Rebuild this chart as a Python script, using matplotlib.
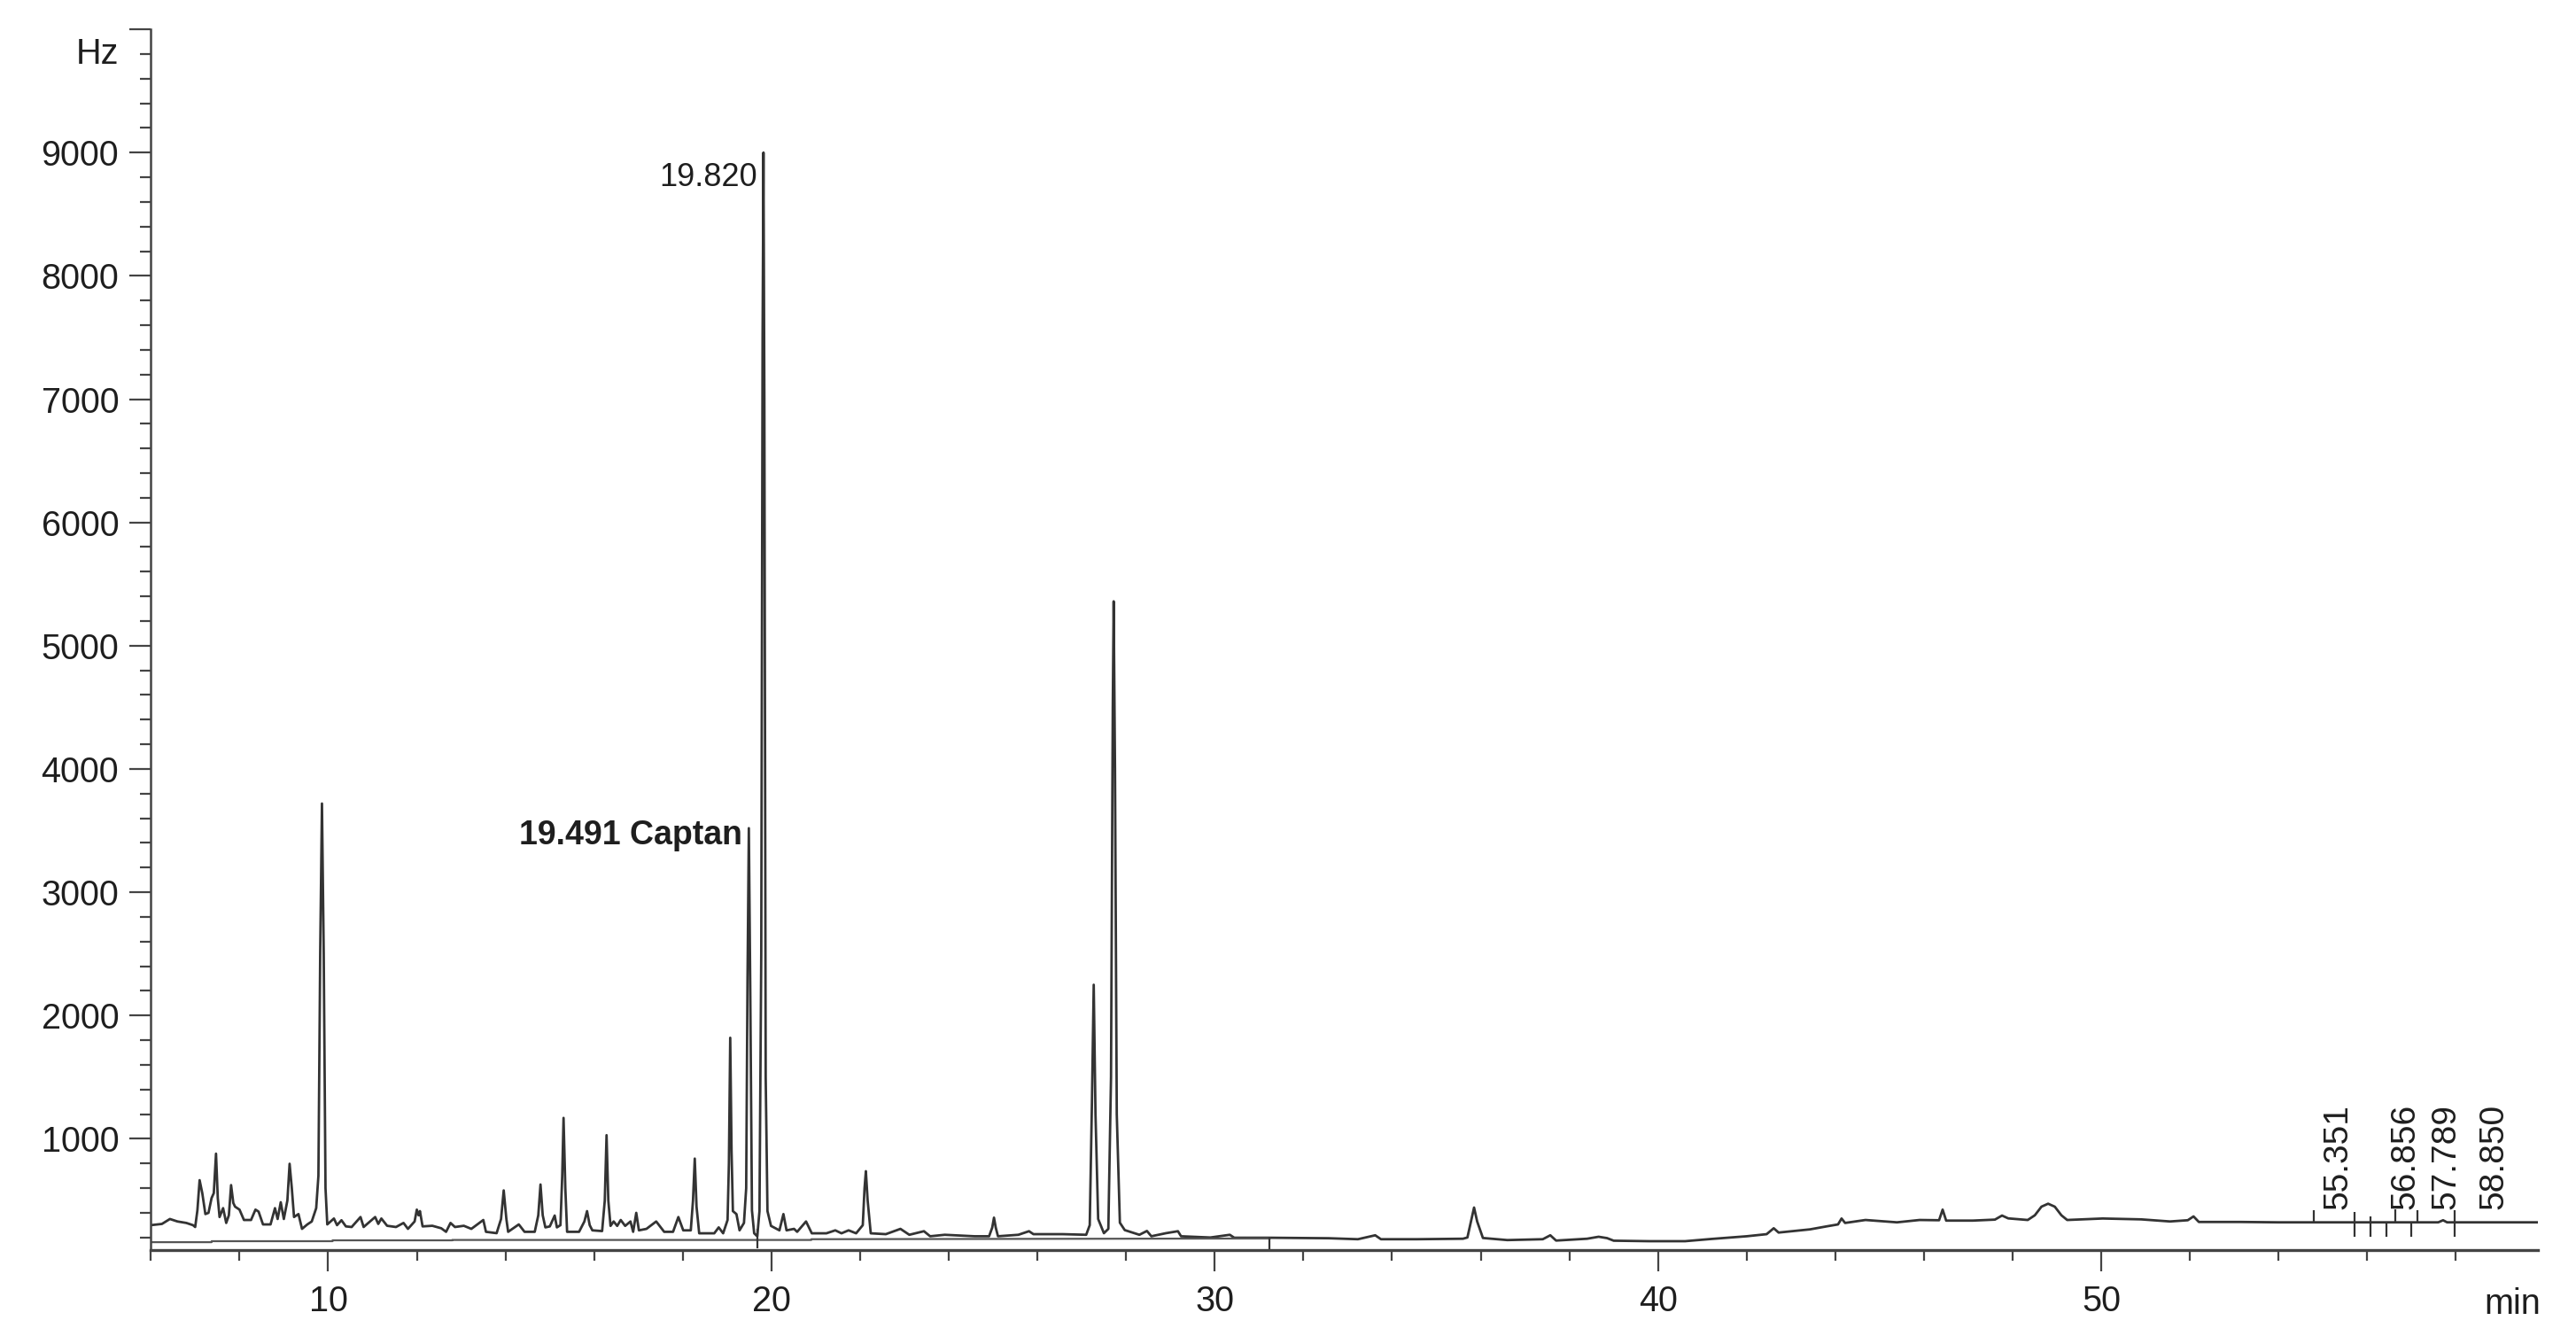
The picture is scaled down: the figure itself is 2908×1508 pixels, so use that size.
import numpy as np
import matplotlib.pyplot as plt
from matplotlib.ticker import MultipleLocator

plt.rcParams['font.family'] = ['Liberation Sans', 'DejaVu Sans']

# chromatogram trace: retention time (min) / signal (Hz)
trace_min = [
    6.00, 6.25, 6.43, 6.60, 6.80, 6.95, 7.00, 7.05, 7.10, 7.16, 7.23, 7.30, 7.37, 7.42, 7.47, 7.51,
    7.55, 7.63, 7.70, 7.76, 7.81, 7.86, 7.90, 8.00, 8.10, 8.26, 8.36, 8.43, 8.53, 8.70, 8.80, 8.86,
    8.93, 9.00, 9.08, 9.13, 9.18, 9.23, 9.33, 9.41, 9.53, 9.63, 9.73, 9.78, 9.82, 9.86, 9.90, 9.94,
    9.98, 10.13, 10.20, 10.30, 10.40, 10.53, 10.73, 10.80, 11.06, 11.13, 11.20, 11.33, 11.53, 11.70,
    11.80, 11.95, 12.00, 12.04, 12.07, 12.13, 12.35, 12.55, 12.66, 12.76, 12.86, 13.06, 13.23, 13.50,
    13.56, 13.80, 13.90, 13.96, 14.02, 14.06, 14.30, 14.43, 14.66, 14.74, 14.79, 14.84, 14.90, 15.00,
    15.11, 15.16, 15.24, 15.28, 15.31, 15.35, 15.39, 15.66, 15.78, 15.84, 15.90, 15.96,
    16.18, 16.24, 16.28, 16.32, 16.37, 16.44, 16.52, 16.60, 16.70, 16.82, 16.88, 16.95, 17.01, 17.18,
    17.40, 17.58, 17.78, 17.90, 18.01, 18.18, 18.23, 18.27, 18.31, 18.37, 18.71, 18.81, 18.91, 19.01,
    19.04, 19.07, 19.10, 19.13, 19.21, 19.28, 19.38, 19.43, 19.46, 19.49, 19.52, 19.56, 19.61, 19.68,
    19.73, 19.77, 19.80, 19.82, 19.84, 19.87, 19.91, 19.99, 20.18, 20.27, 20.34, 20.51, 20.58, 20.78,
    20.91, 21.24, 21.44, 21.58, 21.74, 21.91, 22.06, 22.10, 22.13, 22.17, 22.24, 22.58, 22.91, 23.11,
    23.44, 23.58, 23.91, 24.30, 24.58,
    24.91, 24.98, 25.02, 25.06, 25.11, 25.57, 25.81, 25.91, 26.57, 27.10, 27.18, 27.23, 27.27, 27.31,
    27.37, 27.50, 27.60, 27.66, 27.70, 27.72, 27.75, 27.79, 27.86, 27.97, 28.30, 28.47, 28.57, 28.90,
    29.17, 29.24, 29.90, 30.34, 30.44, 31.24, 32.57, 33.23, 33.62, 33.75, 34.56, 35.60,
    35.70, 35.78, 35.85, 35.92, 36.05, 36.60, 37.40, 37.57, 37.70, 38.40, 38.66, 38.85, 39.00, 39.80,
    40.61, 41.20, 41.56, 42.00, 42.45, 42.61, 42.72, 43.43, 43.80, 44.06, 44.14, 44.22, 44.68, 45.39,
    45.90, 46.34, 46.42, 46.50, 47.10, 47.60, 47.76, 47.90, 48.34, 48.50, 48.65, 48.80, 48.95, 49.10,
    49.23, 50.03, 50.90, 51.55, 51.95, 52.08, 52.20, 53.15, 54.00, 55.00, 56.00, 57.60, 57.71, 57.80,
    59.85,
]
trace_hz = [
    300, 310, 350, 330, 318, 300, 285, 420, 665, 560, 390, 400, 520, 560, 880, 520,
    366, 438, 318, 380, 625, 480, 450, 426, 342, 342, 426, 410, 306, 306, 438, 350,
    486, 350, 500, 798, 600, 366, 390, 270, 306, 330, 438, 700, 2500, 3720, 2500, 600,
    306, 354, 300, 340, 290, 285, 366, 285, 366, 310, 354, 295, 285, 318,
    270, 330, 426, 380, 414, 290, 295, 275, 246, 318, 285, 295, 270, 342,
    246, 235, 350, 582, 350, 246, 306, 246, 246, 380, 630, 380, 282, 290,
    378, 282, 300, 700, 1170, 600, 246, 246, 330, 414, 300, 258,
    252, 500, 1030, 500, 294, 330, 294, 342, 294, 330, 246, 400, 258, 270,
    330, 246, 246, 366, 258, 258, 500, 840, 450, 234, 234, 282, 234, 342,
    800, 1820, 900, 414, 390, 258, 318, 600, 2300, 3520, 2300, 420, 234, 210,
    414, 2500, 7500, 9000, 7000, 1500, 414, 294, 258, 390, 258, 270, 246, 330,
    234, 234, 258, 234, 258, 234, 300, 600, 738, 500, 234, 227, 270, 222,
    251, 210, 222, 215, 210,
    210, 280, 361, 280, 210, 222, 251, 227, 227, 222, 300, 1300, 2250, 1200,
    350, 235, 270, 1500, 4500, 5360, 4000, 1200, 320, 260, 222, 253, 210, 235,
    251, 210, 200, 222, 198, 198, 194, 186, 218, 186, 186, 190,
    200, 330, 443, 330, 196, 179, 186, 218, 175, 190, 206, 195, 174, 170,
    170, 188, 198, 210, 227, 275, 240, 266, 290, 306, 354, 318, 342, 323,
    342, 340, 426, 337, 337, 345, 378, 355, 342, 380, 450, 474, 450, 380,
    342, 354, 347, 330, 340, 371, 326, 326, 323, 323, 323, 323, 340, 323,
    323,
]

# integrator baseline under the first half of the run
base_min = [6.0, 7.37, 7.37, 10.1, 10.1, 12.8, 12.8, 20.9, 20.9, 31.24]
base_hz = [162, 162, 170, 170, 177, 177, 180, 180, 186, 192]

# short event marks on the trace
mark_min = [19.68, 31.24, 54.80, 55.71, 56.08, 56.44, 56.64, 56.99, 57.14, 57.97]
mark_lo = [115, 98, 323, 205, 205, 205, 323, 205, 323, 205]
mark_hi = [270, 198, 420, 405, 370, 323, 430, 323, 420, 420]

# retention times printed at the end of the run
late_rt = ["55.351", "56.856", "57.789", "58.850"]

x_major = [10, 20, 30, 40, 50]
y_major = [1000, 2000, 3000, 4000, 5000, 6000, 7000, 8000, 9000]

ink = '#1e1e1e'

fig = plt.figure(figsize=(29.08, 15.08), dpi=100)
ax = fig.add_axes([0.05856, 0.06432, 0.92667, 0.91379])

ax.plot(trace_min, trace_hz, color='#333333', lw=2.0)
ax.plot(base_min, base_hz, color='#555555', lw=1.6)
ax.vlines(mark_min, mark_lo, mark_hi, color='#333333', lw=1.6)

ax.set_xlim(6, 59.85)
ax.set_ylim(98, 10000)

ax.set_xticks(x_major)
ax.xaxis.set_minor_locator(MultipleLocator(2))
ax.set_yticks(y_major + [10000], [str(v) for v in y_major] + [''])
ax.yaxis.set_minor_locator(MultipleLocator(200))

ax.tick_params(which='major', length=17, width=1.6, color='#444444',
               labelsize=28.5, labelcolor=ink)
ax.tick_params(axis='x', which='major', pad=11)
ax.tick_params(axis='y', which='major', pad=9)
ax.tick_params(which='minor', length=8.5, width=1.6, color='#444444')

for s in ['top', 'right']:
    ax.spines[s].set_visible(False)
ax.spines['left'].set_linewidth(1.8)
ax.spines['left'].set_color('#444444')
ax.spines['bottom'].set_linewidth(2.4)
ax.spines['bottom'].set_color('#444444')

ax.text(19.68, 8730, "19.820", ha='right', va='baseline', fontsize=26, color=ink)
ax.text(19.34, 3390, "19.491 Captan", ha='right', va='baseline', fontsize=27,
        fontweight='bold', color=ink)
for lab in late_rt:
    ax.text(float(lab), 430, lab, rotation=90, ha='center', va='bottom',
            fontsize=28, color=ink)

ax.annotate('Hz', xy=(0, 9800), xycoords=('axes fraction', 'data'),
            xytext=(-26, 0), textcoords='offset points',
            ha='right', va='center', fontsize=28.5, color=ink)
ax.annotate('min', xy=(1, 0), xycoords='axes fraction',
            xytext=(2, -52), textcoords='offset points',
            ha='right', va='baseline', fontsize=28.5, color=ink)

fig.savefig('out.png', dpi=100)
